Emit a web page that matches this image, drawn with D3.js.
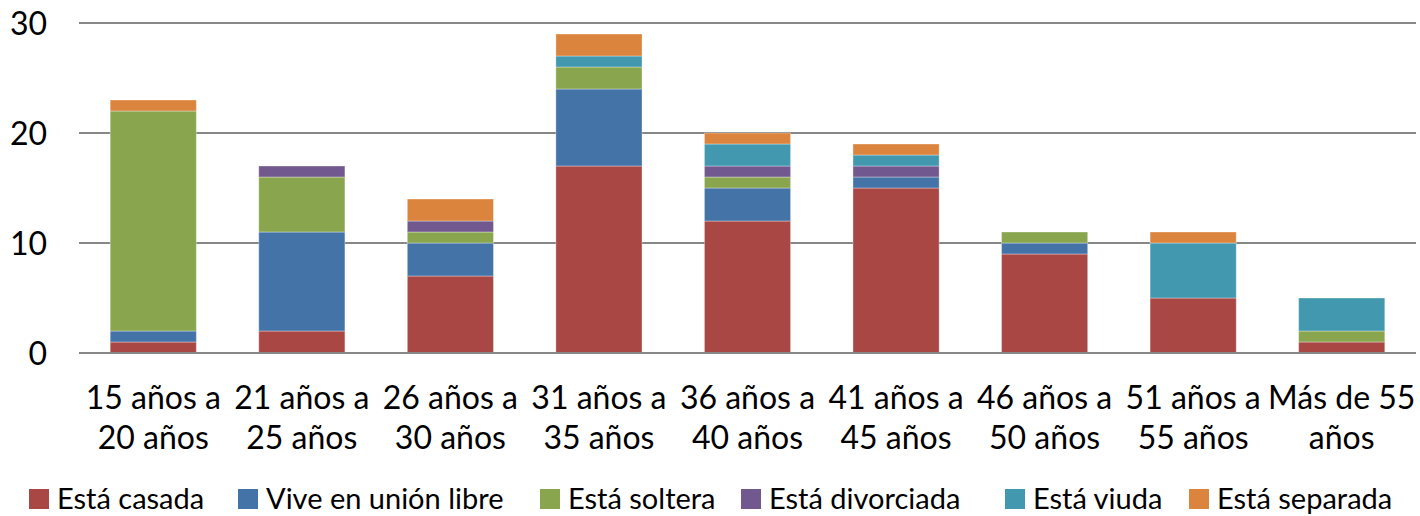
<!DOCTYPE html>
<html>
<head>
<meta charset="utf-8">
<script src="https://cdn.jsdelivr.net/npm/d3@7"></script>
<style>
  body { margin: 0; background: #fff; }
  svg text { font-family: Lato, "Liberation Sans", sans-serif; fill: #000; }
</style>
</head>
<body>
<div id="chart"></div>
<script>
// categories (two-line labels)
var categories = [
    ["15 años a", "20 años"],
    ["21 años a", "25 años"],
    ["26 años a", "30 años"],
    ["31 años a", "35 años"],
    ["36 años a", "40 años"],
    ["41 años a", "45 años"],
    ["46 años a", "50 años"],
    ["51 años a", "55 años"],
    ["Más de 55", "años"]
];

var seriesNames = ["Está casada", "Vive en unión libre", "Está soltera", "Está divorciada", "Está viuda", "Está separada"];
var seriesColors = ["#A94745", "#4473A7", "#89A54E", "#71588F", "#4198AF", "#DB843D"];

// values per series, one per category
var casada     = [1, 2, 7, 17, 12, 15, 9, 5, 1];
var unionLibre = [1, 9, 3, 7, 3, 1, 1, 0, 0];
var soltera    = [20, 5, 1, 2, 1, 0, 1, 0, 1];
var divorciada = [0, 1, 1, 0, 1, 1, 0, 0, 0];
var viuda      = [0, 0, 0, 1, 2, 1, 0, 5, 3];
var separada   = [1, 0, 2, 2, 1, 1, 0, 1, 0];

var yTicks = [0, 10, 20, 30];

var w = 1420, h = 516;
var plotLeft = 79, plotRight = 1416, plotTop = 23, plotBottom = 353;

var allSeries = [casada, unionLibre, soltera, divorciada, viuda, separada];
var table = categories.map(function(c, i) {
    var row = { cat: i };
    seriesNames.forEach(function(k, j) { row[k] = allSeries[j][i]; });
    return row;
});

var stacked = d3.stack().keys(seriesNames)(table);

var xScale = d3.scaleBand()
    .domain(d3.range(categories.length))
    .range([plotLeft, plotRight])
    .paddingInner(0.42)
    .paddingOuter(0.21);

var yScale = d3.scaleLinear()
    .domain([0, 30])
    .range([plotBottom, plotTop]);

var svg = d3.select("#chart")
    .append("svg")
    .attr("width", w)
    .attr("height", h);

// gridlines
svg.append("g")
    .selectAll("line")
    .data(yTicks)
    .enter()
    .append("line")
        .attr("x1", plotLeft)
        .attr("x2", plotRight)
        .attr("y1", function(d) { return yScale(d); })
        .attr("y2", function(d) { return yScale(d); })
        .style("stroke", "#878787")
        .style("stroke-width", 2);

// y tick labels
svg.append("g")
    .selectAll("text")
    .data(yTicks)
    .enter()
    .append("text")
        .attr("x", 47)
        .attr("y", function(d) { return yScale(d); })
        .attr("dy", "0.36em")
        .attr("text-anchor", "end")
        .style("font-size", "32px")
        .text(function(d) { return d; });

// stacked bars
svg.append("g")
    .selectAll("g")
    .data(stacked)
    .enter()
    .append("g")
        .style("fill", function(d, i) { return seriesColors[i]; })
    .selectAll("rect")
    .data(function(d) { return d; })
    .enter()
    .append("rect")
        .attr("x", function(d, i) { return xScale(i); })
        .attr("y", function(d) { return yScale(d[1]); })
        .attr("width", xScale.bandwidth())
        .attr("height", function(d) { return yScale(d[0]) - yScale(d[1]); })
        .style("stroke", "rgba(255,255,255,0.35)")
        .style("stroke-width", 1);

// baseline on top
svg.append("line")
    .attr("x1", plotLeft)
    .attr("x2", plotRight)
    .attr("y1", yScale(0))
    .attr("y2", yScale(0))
    .style("stroke", "#878787")
    .style("stroke-width", 2);

// category labels
var catLabels = svg.append("g")
    .selectAll("text")
    .data(categories)
    .enter()
    .append("text")
        .attr("text-anchor", "middle")
        .style("font-size", "32px");

catLabels.selectAll("tspan")
    .data(function(d, i) { return d.map(function(t) { return { t: t, i: i }; }); })
    .enter()
    .append("tspan")
        .attr("x", function(d) { return xScale(d.i) + xScale.bandwidth() / 2; })
        .attr("y", function(d, j) { return 409 + j * 40; })
        .text(function(d) { return d.t; });

// legend
var legendX = [29, 238, 540, 741, 1005, 1189];
var legend = svg.append("g")
    .selectAll("g")
    .data(seriesNames)
    .enter()
    .append("g")
        .attr("transform", function(d, i) { return "translate(" + legendX[i] + ",489)"; });

legend.append("rect")
    .attr("width", 20)
    .attr("height", 20)
    .style("fill", function(d, i) { return seriesColors[i]; });

legend.append("text")
    .attr("x", 28)
    .attr("y", 20)
    .style("font-size", "29px")
    .text(function(d) { return d; });
</script>
</body>
</html>
